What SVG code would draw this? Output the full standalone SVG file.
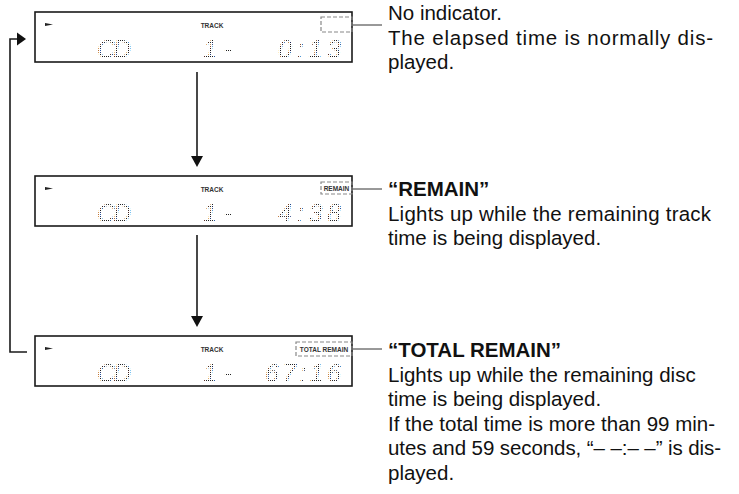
<svg xmlns="http://www.w3.org/2000/svg" width="739" height="494" viewBox="0 0 739 494">
<style>
.box{fill:#fff;stroke:#1a1a1a;stroke-width:1.6}
.ind{fill:none;stroke:#888;stroke-width:1.2;stroke-dasharray:4 2}
.trk{font-family:"Liberation Sans",Arial,sans-serif;font-size:6.5px;font-weight:bold;fill:#333;text-anchor:middle}
.lcd{font-family:"Liberation Sans",Arial,sans-serif;font-size:25px;font-style:italic;fill:url(#dots)}
.desc{font-family:"Liberation Sans",Arial,sans-serif;font-size:20.5px;fill:#111}
.head{font-weight:bold}
.line{fill:none;stroke:#1a1a1a;stroke-width:1.6}
.lead{fill:none;stroke:#333;stroke-width:1}
</style>
<defs>
<pattern id="dots" width="2" height="2" patternUnits="userSpaceOnUse">
<rect x="0" y="0" width="1" height="1" fill="#222"/>
</pattern>
</defs>

<g id="connectors">
<polyline class="line" points="27,352 10,352 10,39 18,39"/>
<polygon points="17,32.5 26,39 17,45.5" fill="#111"/>
<line class="line" x1="197" y1="72" x2="197" y2="158"/>
<polygon points="191,156 203,156 197,167" fill="#111"/>
<line class="line" x1="197" y1="235" x2="197" y2="318"/>
<polygon points="191,316 203,316 197,327" fill="#111"/>
<line class="lead" x1="352" y1="25" x2="382" y2="25"/>
<line class="lead" x1="352" y1="189" x2="382" y2="189"/>
<line class="lead" x1="352" y1="349" x2="382" y2="349"/>
</g>

<g id="display-1" transform="translate(0,12)">
<rect class="box" x="35" y="0" width="317" height="50"/>
<polygon points="45,11 53,12.5 45,14" fill="#222"/>
<text class="trk" x="212" y="15.5">TRACK</text>
<text class="lcd" x="97" y="46" textLength="34" lengthAdjust="spacing">CD</text>
<text class="lcd" x="203" y="46" textLength="29" lengthAdjust="spacing">1-</text>
<text class="lcd" x="278" y="46" textLength="63" lengthAdjust="spacing">0:13</text>
<rect class="ind" x="321" y="5" width="31" height="15"/>
</g>

<g id="display-2" transform="translate(0,176)">
<rect class="box" x="35" y="0" width="317" height="50"/>
<polygon points="45,11 53,12.5 45,14" fill="#222"/>
<text class="trk" x="212" y="15.5">TRACK</text>
<text class="lcd" x="97" y="46" textLength="34" lengthAdjust="spacing">CD</text>
<text class="lcd" x="203" y="46" textLength="29" lengthAdjust="spacing">1-</text>
<text class="lcd" x="278" y="46" textLength="63" lengthAdjust="spacing">4:38</text>
<rect class="ind" x="321" y="6" width="31" height="12"/>
<text class="trk" x="336.5" y="15">REMAIN</text>
</g>

<g id="display-3" transform="translate(0,336)">
<rect class="box" x="35" y="0" width="317" height="50"/>
<polygon points="45,11 53,12.5 45,14" fill="#222"/>
<text class="trk" x="212" y="15.5">TRACK</text>
<text class="lcd" x="97" y="46" textLength="34" lengthAdjust="spacing">CD</text>
<text class="lcd" x="203" y="46" textLength="29" lengthAdjust="spacing">1-</text>
<text class="lcd" x="265" y="46" textLength="76" lengthAdjust="spacing">67:16</text>
<rect class="ind" x="296" y="6" width="56" height="14"/>
<text class="trk" x="324" y="15.5">TOTAL REMAIN</text>
</g>

<g id="text-1" class="desc">
<text x="388" y="20">No indicator.</text>
<text x="388" y="44.5" textLength="325" lengthAdjust="spacing">The elapsed time is normally dis-</text>
<text x="388" y="69">played.</text>
</g>

<g id="text-2" class="desc">
<text x="388" y="196" class="head">“REMAIN”</text>
<text x="388" y="220.5" textLength="323" lengthAdjust="spacing">Lights up while the remaining track</text>
<text x="388" y="245">time is being displayed.</text>
</g>

<g id="text-3" class="desc">
<text x="388" y="357" class="head">“TOTAL REMAIN”</text>
<text x="388" y="381.5">Lights up while the remaining disc</text>
<text x="388" y="406">time is being displayed.</text>
<text x="388" y="430.5">If the total time is more than 99 min-</text>
<text x="388" y="455" textLength="333" lengthAdjust="spacing">utes and 59 seconds, “– –:– –” is dis-</text>
<text x="388" y="479.5">played.</text>
</g>
</svg>
